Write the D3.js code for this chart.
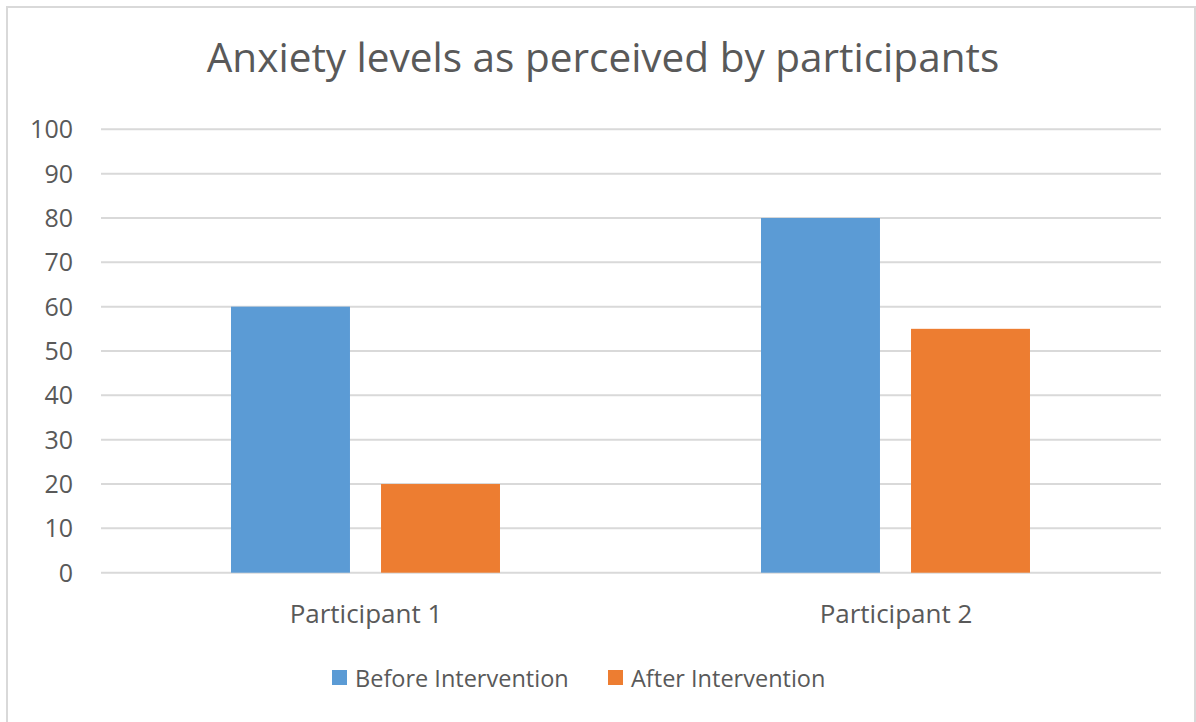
<!DOCTYPE html>
<html>
<head>
<meta charset="utf-8">
<script src="https://cdn.jsdelivr.net/npm/d3@7"></script>
<style>
  html, body { margin: 0; padding: 0; background: #ffffff; }
  svg { display: block; }
  text { font-family: "Open Sans", Lato, sans-serif; fill: #595959; }
</style>
</head>
<body>
<svg id="chart" width="1196" height="722"></svg>
<script>
const title = "Anxiety levels as perceived by participants";
const categories = ["Participant 1", "Participant 2"];
const seriesNames = ["Before Intervention", "After Intervention"];
const beforeValues = [60, 80];
const afterValues = [20, 55];
const yTicks = [0, 10, 20, 30, 40, 50, 60, 70, 80, 90, 100];
const colors = ["#5b9bd5", "#ed7d31"];

const seriesValues = [beforeValues, afterValues];
const data = categories.map((c, i) => ({
  category: c,
  values: seriesNames.map((s, j) => ({ series: s, value: seriesValues[j][i], color: colors[j] }))
}));

const svg = d3.select("#chart");

// outer border
svg.append("rect")
  .attr("x", 7).attr("y", 7).attr("width", 1188).attr("height", 740)
  .attr("fill", "none").attr("stroke", "#d9d9d9").attr("stroke-width", 2);

const plot = { left: 101, right: 1161, top: 129.3, bottom: 572.7 };

const y = d3.scaleLinear().domain([0, 100]).range([plot.bottom, plot.top]);
const x0 = d3.scaleBand().domain(categories).range([plot.left, plot.right]).padding(0);
const bw = x0.bandwidth();
const x1 = d3.scaleBand().domain(seriesNames)
  .range([bw * 0.2453, bw * 0.7528]).paddingInner(0.207).paddingOuter(0);

// gridlines
svg.append("g").selectAll("line").data(yTicks).join("line")
  .attr("x1", plot.left).attr("x2", plot.right)
  .attr("y1", d => y(d)).attr("y2", d => y(d))
  .attr("stroke", "#d9d9d9").attr("stroke-width", 2);

// y tick labels
svg.append("g").selectAll("text").data(yTicks).join("text")
  .attr("x", 73).attr("y", d => y(d))
  .attr("dy", "0.36em")
  .attr("text-anchor", "end")
  .attr("font-size", 25)
  .text(d => d);

// bars
const groups = svg.append("g").selectAll("g").data(data).join("g")
  .attr("transform", d => `translate(${x0(d.category)},0)`);
groups.selectAll("rect").data(d => d.values).join("rect")
  .attr("x", d => x1(d.series))
  .attr("width", x1.bandwidth())
  .attr("y", d => y(d.value))
  .attr("height", d => y(0) - y(d.value))
  .attr("fill", d => d.color);

// category labels
svg.append("g").selectAll("text").data(categories).join("text")
  .attr("x", d => x0(d) + bw / 2)
  .attr("y", 623)
  .attr("text-anchor", "middle")
  .attr("font-size", 26)
  .text(d => d);

// title
svg.append("text")
  .attr("x", 603).attr("y", 72)
  .attr("text-anchor", "middle")
  .attr("font-size", 40.5)
  .text(title);

// legend
const legendItems = [
  { name: seriesNames[0], color: colors[0], x: 332 },
  { name: seriesNames[1], color: colors[1], x: 608 }
];
const lg = svg.append("g").selectAll("g").data(legendItems).join("g")
  .attr("transform", d => `translate(${d.x},0)`);
lg.append("rect").attr("x", 0).attr("y", 670).attr("width", 15).attr("height", 15)
  .attr("fill", d => d.color);
lg.append("text").attr("x", 23).attr("y", 687).attr("font-size", 23.5).text(d => d.name);
</script>
</body>
</html>
